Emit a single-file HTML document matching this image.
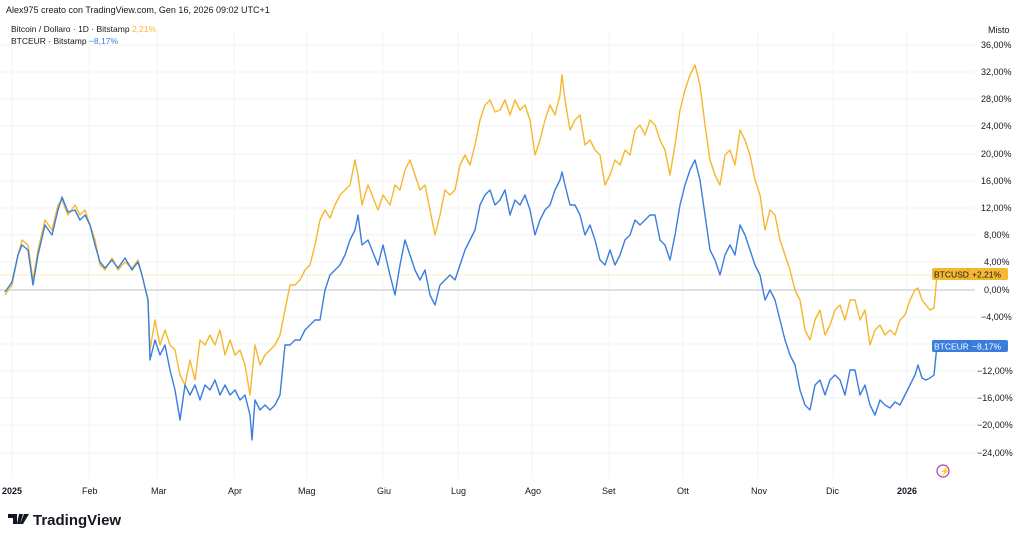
<!DOCTYPE html>
<html><head><meta charset="utf-8"><style>
body{margin:0;width:1024px;height:539px;background:#fff;overflow:hidden;font-family:"Liberation Sans",sans-serif}
svg{position:absolute;left:0;top:0}
</style></head><body>
<svg width="1024" height="539" viewBox="0 0 1024 539" font-family="Liberation Sans, sans-serif">
<g stroke="#f3f3f5" stroke-width="1">
<line x1="0" y1="45" x2="975" y2="45"/><line x1="0" y1="72" x2="975" y2="72"/><line x1="0" y1="99" x2="975" y2="99"/><line x1="0" y1="126" x2="975" y2="126"/><line x1="0" y1="154" x2="975" y2="154"/><line x1="0" y1="181" x2="975" y2="181"/><line x1="0" y1="208" x2="975" y2="208"/><line x1="0" y1="235" x2="975" y2="235"/><line x1="0" y1="262" x2="975" y2="262"/><line x1="0" y1="317" x2="975" y2="317"/><line x1="0" y1="344" x2="975" y2="344"/><line x1="0" y1="371" x2="975" y2="371"/><line x1="0" y1="398" x2="975" y2="398"/><line x1="0" y1="425" x2="975" y2="425"/><line x1="0" y1="453" x2="975" y2="453"/>
<line x1="12" y1="30" x2="12" y2="478"/><line x1="89" y1="30" x2="89" y2="478"/><line x1="157" y1="30" x2="157" y2="478"/><line x1="234" y1="30" x2="234" y2="478"/><line x1="307" y1="30" x2="307" y2="478"/><line x1="383" y1="30" x2="383" y2="478"/><line x1="458" y1="30" x2="458" y2="478"/><line x1="532" y1="30" x2="532" y2="478"/><line x1="609" y1="30" x2="609" y2="478"/><line x1="683" y1="30" x2="683" y2="478"/><line x1="758" y1="30" x2="758" y2="478"/><line x1="833" y1="30" x2="833" y2="478"/><line x1="907" y1="30" x2="907" y2="478"/>
</g>
<line x1="0" y1="290" x2="975" y2="290" stroke="#bfc2c8" stroke-width="1"/>
<line x1="0" y1="275" x2="935" y2="275" stroke="#f7c948" stroke-width="1" stroke-dasharray="1 1" opacity="0.7"/>
<polyline fill="none" stroke="#f5b82e" stroke-width="1.4" stroke-linejoin="round" points="5,295 12,285 18,255 22,240 28,245 33,280 38,250 45,220 52,230 58,205 62,200 68,215 75,205 80,215 85,210 90,225 95,240 100,265 105,270 112,258 118,270 125,262 132,268 138,260 142,275 148,300 150,350 155,320 160,345 165,330 170,345 175,350 180,375 185,385 190,360 195,380 200,340 205,345 210,335 215,345 220,330 225,355 230,340 235,355 240,350 245,365 250,395 255,345 260,365 265,355 270,350 275,345 280,335 285,310 290,285 295,285 300,280 305,270 310,265 315,245 320,220 325,210 330,218 335,205 340,195 345,190 350,185 355,160 358,175 362,205 368,185 372,195 378,210 383,195 390,205 395,185 400,190 405,170 410,160 415,175 420,190 425,185 430,210 435,235 440,215 445,190 450,195 455,190 460,165 465,155 470,165 475,145 480,120 485,105 490,100 495,112 500,110 505,100 510,115 515,100 520,110 525,105 530,120 535,155 540,140 545,120 550,105 555,115 560,95 562,75 565,100 570,130 575,120 580,115 585,145 590,140 595,150 600,155 605,185 610,175 615,160 620,165 625,150 630,155 635,130 640,125 645,135 650,120 655,125 660,140 665,150 670,175 675,145 680,110 685,90 690,75 695,65 700,85 705,125 710,160 715,175 720,185 725,155 730,150 735,165 740,130 745,140 750,155 755,180 760,195 765,230 770,210 775,215 780,240 785,255 790,270 795,290 800,300 805,330 810,340 815,320 820,310 825,335 830,325 835,310 840,305 845,320 850,300 855,300 860,320 865,310 870,345 875,330 880,325 885,335 890,330 895,335 900,320 905,315 910,300 915,290 918,288 922,300 926,305 930,310 934,308 937,275 940,268"/>
<polyline fill="none" stroke="#3b7ddd" stroke-width="1.4" stroke-linejoin="round" points="5,292 12,282 18,255 22,245 28,250 33,285 38,255 45,225 52,235 58,210 62,197 68,212 75,210 80,220 85,215 90,225 95,245 100,262 105,268 112,260 118,268 125,258 132,270 138,262 142,275 148,300 150,360 155,340 160,355 165,345 170,370 175,390 180,420 185,385 190,395 195,385 200,400 205,385 210,390 215,380 220,395 225,385 230,395 235,390 240,400 245,395 250,415 252,440 255,400 260,410 265,405 270,410 275,405 280,395 285,345 290,345 295,340 300,340 305,330 310,325 315,320 320,320 325,290 330,275 335,270 340,265 345,255 350,240 355,230 358,215 362,245 368,240 372,250 378,265 383,245 390,275 395,295 400,265 405,240 410,255 415,270 420,280 425,270 430,295 435,305 440,285 445,280 450,275 455,280 460,265 465,250 470,240 475,230 480,205 485,195 490,190 495,205 500,200 505,190 510,215 515,200 520,205 525,195 530,210 535,235 540,220 545,210 550,205 555,190 560,180 562,172 565,185 570,205 575,205 580,215 585,235 590,225 595,240 600,260 605,265 610,250 615,265 620,255 625,240 630,235 635,220 640,225 645,220 650,215 655,215 660,240 665,245 670,260 675,235 680,205 685,185 690,170 695,160 700,180 705,215 710,250 715,260 720,275 725,255 730,245 735,255 740,225 745,235 750,250 755,265 760,275 765,300 770,290 775,300 780,320 785,340 790,355 795,365 800,390 805,405 810,410 815,385 820,380 825,395 830,380 835,375 840,380 845,395 850,370 855,370 860,395 865,385 870,405 875,415 880,400 885,405 890,408 895,402 900,405 905,395 910,385 915,375 918,365 922,378 926,380 930,378 934,375 937,345 940,340"/>
<g font-size="9" fill="#131722">
<text x="981" y="48">36,00%</text><text x="981" y="75">32,00%</text><text x="981" y="102">28,00%</text><text x="981" y="129">24,00%</text><text x="981" y="157">20,00%</text><text x="981" y="184">16,00%</text><text x="981" y="211">12,00%</text><text x="984" y="238">8,00%</text><text x="984" y="265">4,00%</text><text x="984" y="293">0,00%</text><text x="981" y="320">−4,00%</text><text x="977" y="374">−12,00%</text><text x="977" y="401">−16,00%</text><text x="977" y="428">−20,00%</text><text x="977" y="456">−24,00%</text>
<text x="988" y="33">Misto</text>
<text x="2" y="494" font-weight="bold">2025</text><text x="82" y="494">Feb</text><text x="151" y="494">Mar</text><text x="228" y="494">Apr</text><text x="298" y="494">Mag</text><text x="377" y="494">Giu</text><text x="451" y="494">Lug</text><text x="525" y="494">Ago</text><text x="602" y="494">Set</text><text x="677" y="494">Ott</text><text x="751" y="494">Nov</text><text x="826" y="494">Dic</text><text x="897" y="494" font-weight="bold">2026</text>
<text x="6" y="13">Alex975 creato con TradingView.com, Gen 16, 2026 09:02 UTC+1</text>
<text x="11" y="32" font-size="8.5">Bitcoin / Dollaro · 1D · Bitstamp <tspan fill="#f5b82e">2,21%</tspan></text>
<text x="11" y="44" font-size="8.5">BTCEUR · Bitstamp <tspan fill="#3b7ddd">−8,17%</tspan></text>
</g>
<rect x="932" y="268" width="76" height="12" rx="2" fill="#f5b82e"/>
<line x1="968" y1="268" x2="968" y2="280" stroke="#e0a41f"/>
<text x="934" y="277.5" font-size="8.5" fill="#131722">BTCUSD</text><text x="972" y="277.5" font-size="8.5" fill="#131722">+2,21%</text>
<rect x="932" y="340" width="76" height="12" rx="2" fill="#3b7ddd"/>
<line x1="968" y1="340" x2="968" y2="352" stroke="#2f68bf"/>
<text x="934" y="349.5" font-size="8.5" fill="#fff">BTCEUR</text><text x="972" y="349.5" font-size="8.5" fill="#fff">−8,17%</text>
<circle cx="943" cy="471" r="6" fill="none" stroke="#b13aa8" stroke-width="1.2"/>
<text x="940" y="474" font-size="8" fill="#b13aa8">⚡</text>
<path d="M8 514h9v10h-4v-6h-5z M19 514h4l-3 10h-3z M24 514h5l-6 10h-3z" fill="#131722"/>
<text x="33" y="525" font-size="15" font-weight="bold" fill="#131722">TradingView</text>
</svg>
</body></html>
